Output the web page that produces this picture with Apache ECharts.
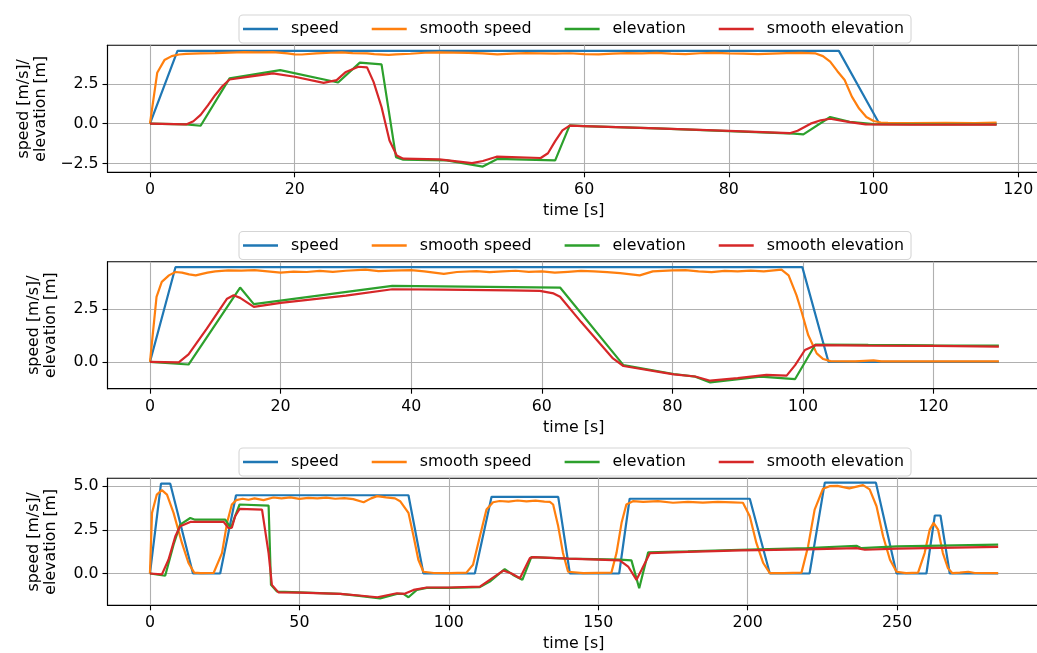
<!DOCTYPE html>
<html><head><meta charset="utf-8">
<script src="https://cdn.jsdelivr.net/npm/echarts@6/dist/echarts.min.js"></script>
<style>html,body{margin:0;padding:0;background:#fff}#c{width:1037px;height:653px}</style>
</head><body><div id="c"></div>
<script>
const seriesNames = ['speed', 'smooth speed', 'elevation', 'smooth elevation'];
const colors = ['#1f77b4', '#ff7f0e', '#2ca02c', '#d62728'];

// ---- plot 1 ----
const speed1 = [[0,0],[3.8,4.58],[95.2,4.58],[100.8,0],[117,0]];
const smoothSpeed1 = [[0,0],[1,3.2],[2,4.0],[3,4.25],[4,4.35],[5,4.39],[7,4.42],[9,4.44],[11,4.47],[13,4.5],[15,4.49],[17,4.5],[19,4.42],[20,4.36],[21,4.35],[23,4.42],[25,4.46],[26.5,4.49],[28,4.44],[30,4.42],[31,4.37],[33,4.33],[34,4.36],[36,4.4],[38,4.46],[40,4.49],[42,4.47],[44,4.45],[46,4.42],[48,4.36],[50,4.41],[52,4.44],[54,4.42],[56,4.4],[58,4.43],[60,4.38],[62,4.36],[64,4.41],[66,4.44],[68,4.42],[70,4.45],[72,4.41],[74,4.38],[76,4.43],[78,4.45],[80,4.42],[82,4.4],[84,4.38],[86,4.41],[88,4.44],[90,4.45],[92,4.42],[93,4.25],[94,3.9],[95,3.3],[96,2.75],[97,1.7],[98,0.95],[99,0.42],[100,0.17],[101,0.07],[102,0.05],[105,0.04],[110,0.05],[114,0.04],[117,0.06]];
const elevation1 = [[0,0],[5,-0.04],[7,-0.13],[11,2.85],[18,3.37],[26,2.59],[29,3.84],[32,3.73],[34,-2.11],[35,-2.27],[41,-2.31],[46,-2.7],[48,-2.22],[56,-2.31],[58,-0.11],[60,-0.15],[70,-0.3],[80,-0.47],[89,-0.63],[90.3,-0.67],[94,0.42],[96.7,0.12],[100,-0.03],[110,-0.05],[117,-0.04]];
const smoothElevation1 = [[0,0],[5,-0.05],[6,0.15],[7,0.55],[8,1.15],[9,1.79],[10,2.35],[11,2.78],[14,2.98],[17,3.16],[20,2.95],[24,2.57],[25.8,2.74],[27,3.23],[28.8,3.58],[30,3.54],[30.9,2.63],[32,1.05],[33.1,-1.06],[34.1,-2.0],[35,-2.2],[40,-2.25],[44.5,-2.48],[46,-2.35],[47.9,-2.08],[50,-2.1],[54,-2.16],[55,-1.86],[56,-1.1],[57,-0.42],[58,-0.12],[60,-0.15],[70,-0.3],[80,-0.46],[88.4,-0.6],[89.5,-0.45],[91.3,0.0],[92.7,0.21],[94,0.31],[96.7,0.1],[98.9,-0.04],[105,-0.07],[117,-0.06]];

// ---- plot 2 ----
const speed2 = [[0,0],[3.9,4.5],[99.9,4.5],[103.9,0],[130,0]];
const smoothSpeed2 = [[0,0],[1,3.09],[1.8,3.8],[2.9,4.11],[3.9,4.27],[4.9,4.24],[6,4.16],[7,4.11],[8.8,4.24],[10,4.3],[12,4.35],[14,4.34],[16,4.36],[18,4.3],[20,4.24],[22,4.29],[24,4.27],[26,4.32],[28,4.28],[30,4.33],[33,4.38],[35,4.31],[37,4.34],[40,4.36],[42,4.3],[45,4.18],[47,4.27],[50,4.31],[52,4.26],[54,4.3],[56,4.33],[58,4.28],[60,4.3],[62,4.24],[64,4.28],[66,4.32],[68,4.3],[70,4.26],[72,4.22],[75,4.11],[77,4.3],[80,4.35],[82,4.36],[84,4.3],[86,4.26],[88,4.32],[90,4.3],[92,4.34],[94,4.3],[96.7,4.38],[97.8,4.11],[99,3.17],[99.8,2.37],[100.8,1.27],[102.1,0.4],[103.1,0.13],[104.2,0.03],[108,0.02],[110.8,0.07],[112,0.02],[120,0.02],[130,0.02]];
const elevation2 = [[0,0],[5.9,-0.13],[13.8,3.53],[15.9,2.74],[37.1,3.61],[62.8,3.53],[72.5,-0.16],[80.2,-0.58],[83.5,-0.71],[85.8,-0.98],[93.5,-0.71],[98.8,-0.82],[101.9,0.82],[110,0.8],[120,0.78],[130,0.77]];
const smoothElevation2 = [[0,0],[4.4,-0.03],[5.9,0.35],[8.7,1.58],[11.8,3.0],[12.8,3.16],[13.8,3.04],[15.9,2.61],[20,2.8],[30,3.15],[37.1,3.45],[45,3.43],[55,3.4],[59.7,3.37],[61.8,3.25],[62.8,3.09],[66,1.9],[70.9,0.16],[72.5,-0.2],[80.2,-0.6],[83.5,-0.7],[85.8,-0.9],[90,-0.78],[94.4,-0.62],[97.5,-0.66],[98.8,-0.16],[100.3,0.56],[101.9,0.79],[110,0.77],[120,0.76],[130,0.72]];

// ---- plot 3 ----
const speed3 = [[0,0],[3.7,5.14],[6.8,5.14],[14.4,0],[23.5,0],[28.8,4.48],[86.5,4.48],[91.5,0],[108.7,0],[114.3,4.39],[136.6,4.39],[140.5,0],[157,0],[160.5,4.28],[200.7,4.28],[207.4,0],[220.7,0],[225.8,5.2],[242.9,5.2],[249.8,0],[259.8,0],[262.6,3.32],[264.5,3.32],[267.6,0],[283.8,0]];
const smoothSpeed3 = [[0,0],[0.7,3.47],[2.3,4.52],[4,4.77],[5.7,4.52],[7.9,3.47],[10.7,1.75],[12.9,0.6],[14.8,0.05],[17,0.02],[21.3,0.03],[24.1,1.17],[25.8,2.9],[27.4,3.95],[28.9,4.2],[31,4.28],[33,4.22],[35,4.3],[38,4.2],[41.3,4.35],[44,4.3],[47,4.36],[50,4.27],[53,4.33],[56,4.3],[59,4.34],[62,4.28],[65,4.32],[68,4.26],[71.5,4.08],[74,4.3],[76,4.43],[79,4.36],[82,4.3],[83.7,4.14],[86.5,3.47],[88.2,2.13],[89.8,0.79],[91.5,0.1],[95,0.03],[100,0.02],[105.9,0.05],[108.1,0.5],[110.4,2.13],[112.6,3.66],[114.8,4.08],[117,4.15],[120,4.12],[123,4.18],[126,4.13],[129,4.17],[132,4.12],[133.8,4.1],[134.9,3.95],[136.6,2.7],[138.2,1.17],[139.9,0.1],[145,0.02],[154.4,0.05],[156.1,1.17],[157.8,2.9],[159.4,3.95],[161.6,4.14],[165,4.1],[170,4.14],[175,4.05],[180,4.1],[185,4.06],[190,4.1],[195,4.07],[198.4,4.05],[200.7,3.28],[202.9,1.75],[205.2,0.6],[207.4,0.02],[212,0.02],[218,0.05],[220.2,1.55],[222.4,3.66],[225.2,4.85],[227.4,5.0],[230,5.02],[234,4.87],[238.6,5.06],[240.8,4.82],[243.1,3.85],[245.3,2.13],[247.6,0.79],[249.8,0.1],[253,0.02],[257,0.05],[259.2,1.17],[260.9,2.51],[262.2,2.9],[263.7,2.51],[265.3,1.17],[267,0.3],[268.5,0.02],[271,0.05],[273.8,0.1],[276,0.03],[283.8,0.02]];
const elevation3 = [[0,0],[5.1,-0.13],[7.9,1.65],[10.1,2.8],[13.5,3.18],[15.1,3.08],[25.2,3.08],[26.3,2.8],[27.1,2.6],[28.5,3.28],[30,3.95],[39.7,3.89],[40.5,-0.65],[42.5,-1.03],[50,-1.08],[63.7,-1.17],[70,-1.28],[77,-1.42],[82.6,-1.17],[84.8,-1.17],[86.5,-1.36],[89.3,-0.94],[92.6,-0.82],[100,-0.82],[110.4,-0.78],[113.7,-0.46],[118.7,0.25],[121.5,-0.08],[124.6,-0.36],[127.6,0.94],[140,0.85],[157.2,0.79],[161.1,0.75],[163.7,-0.84],[166.7,1.21],[180,1.27],[197.4,1.36],[220,1.45],[236.4,1.59],[238,1.45],[250,1.55],[283.8,1.65]];
const smoothElevation3 = [[0,0],[4,-0.05],[6.2,0.79],[8.5,2.13],[10.1,2.7],[13.5,2.95],[24.7,2.95],[26.3,2.6],[27.4,2.62],[28.5,3.28],[30,3.7],[37.5,3.66],[39.7,1.17],[40.8,-0.65],[43,-1.08],[50,-1.1],[63.7,-1.17],[70,-1.26],[76.1,-1.36],[82.6,-1.13],[85,-1.17],[88.2,-0.94],[92.6,-0.8],[100,-0.8],[110.4,-0.75],[113.7,-0.36],[118.2,0.17],[121,0.0],[123.8,-0.27],[127.1,0.88],[128.2,0.94],[140,0.85],[157.2,0.75],[160,0.4],[162.8,-0.36],[164.5,0.21],[167.3,1.17],[180,1.24],[197.9,1.32],[220,1.38],[236.4,1.45],[239.2,1.36],[250,1.42],[283.8,1.52]];

// ---- ticks ----
const xTicks1 = [0, 20, 40, 60, 80, 100, 120];
const xTicks2 = [0, 20, 40, 60, 80, 100, 120];
const xTicks3 = [0, 50, 100, 150, 200, 250];
const yTicks1 = [-2.5, 0, 2.5];
const yTicks2 = [0, 2.5];
const yTicks3 = [0, 2.5, 5];
const xLabel = 'time [s]';
const yLabel = 'speed [m/s]/\nelevation [m]';

const plots = [
  {data: [speed1, smoothSpeed1, elevation1, smoothElevation1], xTicks: xTicks1, yTicks: yTicks1, xr: [-5.87, 123.0], yr: [-3.06, 4.93], top: 45.3, legendTop: 15},
  {data: [speed2, smoothSpeed2, elevation2, smoothElevation2], xTicks: xTicks2, yTicks: yTicks2, xr: [-6.51, 136.3], yr: [-1.28, 4.76], top: 261.7, legendTop: 231.5},
  {data: [speed3, smoothSpeed3, elevation3, smoothElevation3], xTicks: xTicks3, yTicks: yTicks3, xr: [-14.2, 297.8], yr: [-1.82, 5.45], top: 478.3, legendTop: 448}
];

const FONT = 'DejaVu Sans';
const FS = 15.8;
const fmtNum = v => { const s = (Math.abs(v) < 1e-9 ? 0 : v).toFixed(1); return s.replace('-', '\u2212'); };

const grids = [], xAxes = [], yAxes = [], series = [], legends = [];
plots.forEach((p, i) => {
  grids.push({left: 107.5, right: -3, top: p.top, height: 127, show: true, borderColor: '#000', borderWidth: 1.1, backgroundColor: 'transparent', containLabel: false, outerBoundsMode: 'none'});
  xAxes.push({
    type: 'value', gridIndex: i, min: p.xr[0], max: p.xr[1],
    name: xLabel, nameLocation: 'middle', nameGap: 31,
    nameTextStyle: {fontFamily: FONT, fontSize: FS, color: '#000'},
    axisLine: {show: true, onZero: false, lineStyle: {color: '#000', width: 1.1}},
    axisTick: {show: true, inside: false, length: 5, customValues: p.xTicks, lineStyle: {color: '#000', width: 1.1}},
    axisLabel: {customValues: p.xTicks, margin: 10, fontFamily: FONT, fontSize: FS, color: '#000', formatter: v => String(Math.round(v))},
    splitLine: {show: true, lineStyle: {color: '#b0b0b0', width: 1.1}}
  });
  yAxes.push({
    type: 'value', gridIndex: i, min: p.yr[0], max: p.yr[1],
    name: yLabel, nameLocation: 'middle', nameGap: 48,
    nameTextStyle: {fontFamily: FONT, fontSize: FS, color: '#000', lineHeight: 17, align: 'center'},
    axisLine: {show: true, onZero: false, lineStyle: {color: '#000', width: 1.1}},
    axisTick: {show: true, inside: false, length: 5, customValues: p.yTicks, lineStyle: {color: '#000', width: 1.1}},
    axisLabel: {customValues: p.yTicks, margin: 9, fontFamily: FONT, fontSize: FS, color: '#000', formatter: fmtNum},
    splitLine: {show: true, lineStyle: {color: '#b0b0b0', width: 1.1}}
  });
  p.data.forEach((d, k) => {
    series.push({
      type: 'line', name: seriesNames[k], xAxisIndex: i, yAxisIndex: i, data: d,
      showSymbol: false, symbol: 'none', smooth: false, color: colors[k],
      lineStyle: {color: colors[k], width: 2.2}, emphasis: {disabled: true}, z: 3 + k
    });
  });
  legends.push({
    data: seriesNames, left: 239, top: p.legendTop, orient: 'horizontal',
    icon: 'rect', itemWidth: 35, itemHeight: 2.3, itemGap: 33,
    padding: [6, 7, 6, 4], backgroundColor: 'rgba(255,255,255,0.85)',
    borderColor: '#d5d5d5', borderWidth: 1.1, borderRadius: 4,
    textStyle: {fontFamily: FONT, fontSize: FS, color: '#000', padding: [0, 0, 0, 8], lineHeight: 16},
    selectedMode: false, z: 10
  });
});

const chart = echarts.init(document.getElementById('c'), null, {renderer: 'canvas'});
chart.setOption({
  animation: false, backgroundColor: '#fff',
  grid: grids, xAxis: xAxes, yAxis: yAxes, series: series, legend: legends
});
</script></body></html>
